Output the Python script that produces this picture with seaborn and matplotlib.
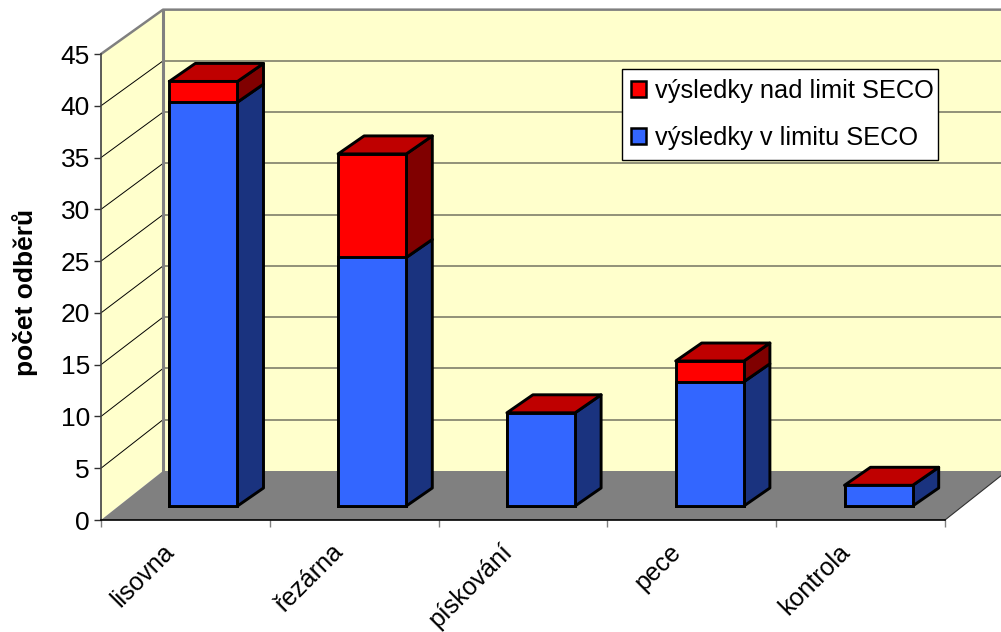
import matplotlib
matplotlib.use("Agg")
import matplotlib.pyplot as plt
from matplotlib.patches import Patch, Polygon, Rectangle
import pandas as pd
import seaborn as sns

# data
categories = ["lisovna", "řezárna", "pískování", "pece", "kontrola"]
in_limit = [39, 24, 9, 12, 2]
over_limit = [2, 10, 0, 2, 0]
y_ticks = [0, 5, 10, 15, 20, 25, 30, 35, 40, 45]
label_over = "výsledky nad limit SECO"
label_in = "výsledky v limitu SECO"

sns.set_theme(style="white")
plt.rcParams["font.family"] = ["Liberation Sans", "DejaVu Sans"]

W, H = 1001, 632
# front plane of the chart in pixels
left, right, top, bottom = 101, 945, 54, 520
px_x = (right - left) / len(categories)
px_y = (bottom - top) / 45

df = pd.DataFrame({"kategorie": categories, "v_limitu": in_limit, "nad_limitem": over_limit})
df["celkem"] = df["v_limitu"] + df["nad_limitem"]

fig = plt.figure(figsize=(W / 100, H / 100), dpi=100, facecolor="white")
ax = fig.add_axes([left / W, 1 - bottom / H, (right - left) / W, (bottom - top) / H])
ax.set_xlim(-0.5, 4.5)
ax.set_ylim(0, 45)
ax.patch.set_visible(False)

# walls and floor
wall_dx = 62 / px_x
wall_dy = 49 / px_y
back_scale = 0.99
x0, x1 = -0.5, 4.5


def back_y(v):
    return wall_dy + v * back_scale


yellow = "#FFFFCC"
ax.add_patch(Polygon([(x0, 0), (x0 + wall_dx, wall_dy), (x0 + wall_dx, back_y(45)), (x0, 45)],
                     fc=yellow, ec="none", clip_on=False, zorder=1))
ax.add_patch(Polygon([(x0 + wall_dx, wall_dy), (x1 + wall_dx, wall_dy), (x1 + wall_dx, back_y(45)), (x0 + wall_dx, back_y(45))],
                     fc=yellow, ec="none", clip_on=False, zorder=1))
ax.add_patch(Polygon([(x0, 0), (x1, 0), (x1 + wall_dx, wall_dy), (x0 + wall_dx, wall_dy)],
                     fc="#808080", ec="none", clip_on=False, zorder=1))

for v in y_ticks[1:-1]:
    ax.plot([x0, x0 + wall_dx], [v, back_y(v)], color="black", lw=0.7, clip_on=False, zorder=2)
    ax.plot([x0 + wall_dx, x1 + wall_dx], [back_y(v), back_y(v)], color="#7F7F6A", lw=1.2, clip_on=False, zorder=2)

# frame edges of the walls
ax.plot([x0, x0 + wall_dx, x1 + wall_dx], [45, back_y(45), back_y(45)], color="#808080", lw=1.8, clip_on=False, zorder=3)
ax.plot([x0 + wall_dx, x0 + wall_dx], [wall_dy, back_y(45)], color="#808080", lw=2.2, clip_on=False, zorder=3)
ax.plot([x1, x1 + wall_dx], [0, wall_dy], color="#303030", lw=0.8, clip_on=False, zorder=3)

sns.despine(ax=ax, top=True, right=True)
ax.spines["left"].set_color("#404040")
ax.spines["left"].set_linewidth(1.2)
ax.spines["left"].set_zorder(4)
ax.spines["bottom"].set_color("black")
ax.spines["bottom"].set_linewidth(1.2)
ax.spines["bottom"].set_zorder(4)

ax.set_yticks(y_ticks)
ax.tick_params(axis="y", left=True, length=5, width=1, color="#303030", labelsize=19, pad=3, labelcolor="black")
ax.set_xticks([x0 + i for i in range(len(categories) + 1)])
ax.set_xticklabels([])
ax.tick_params(axis="x", which="major", bottom=True, length=5, width=1, color="#808080")
# label ends sit left of the category centre
ax.set_xticks([i - 23 / px_x for i in range(len(categories))], labels=categories, minor=True)
ax.tick_params(axis="x", which="minor", bottom=False, length=0, pad=14, labelsize=18, labelcolor="black")
for t in ax.get_xticklabels(minor=True):
    t.set_rotation(45)
    t.set_ha("right")
    t.set_va("top")
    t.set_rotation_mode("anchor")
fig.text(25 / W, 1 - 292 / H, "počet odběrů", rotation=90, ha="center", va="center",
         fontsize=19, fontweight="bold", color="black")

# bars sit part way into the floor
shift_x, shift_y = 18, 14
bx = fig.add_axes([(left + shift_x) / W, 1 - (bottom - shift_y) / H, (right - left) / W, (bottom - top) / H])
bx.patch.set_visible(False)

edge = dict(edgecolor="black", linewidth=2.1)
sns.barplot(data=df, x="kategorie", y="celkem", color="#FF0000", saturation=1, width=0.404, ax=bx, **edge)
sns.barplot(data=df, x="kategorie", y="v_limitu", color="#3366FF", saturation=1, width=0.404, ax=bx, **edge)
bx.set_xlim(-0.5, 4.5)
bx.set_ylim(0, 45)
bx.axis("off")

# depth of the bars
depth_x = 26 / px_x
depth_y = 18 / px_y
n = len(categories)
for p in bx.patches[:n * 2]:
    p.set_clip_on(False)
    p.set_zorder(6)
for red, blue in zip(bx.patches[:n], bx.patches[n:n * 2]):
    xl = blue.get_x()
    xr = xl + blue.get_width()
    h_blue = blue.get_height()
    h_all = red.get_height()
    common = dict(edgecolor="black", linewidth=2.1, clip_on=False, zorder=5, joinstyle="round")
    bx.add_patch(Polygon([(xr, 0), (xr + depth_x, depth_y), (xr + depth_x, h_blue + depth_y), (xr, h_blue)],
                         facecolor="#1A337F", **common))
    if h_all > h_blue:
        bx.add_patch(Polygon([(xr, h_blue), (xr + depth_x, h_blue + depth_y), (xr + depth_x, h_all + depth_y), (xr, h_all)],
                             facecolor="#800000", **common))
    bx.add_patch(Polygon([(xl, h_all), (xr, h_all), (xr + depth_x, h_all + depth_y), (xl + depth_x, h_all + depth_y)],
                         facecolor="#BF0000", **common))

# legend box drawn apart so its padding can match the picture
bx.add_patch(Rectangle((622 / W, 1 - 160 / H), 316 / W, 91 / H, transform=fig.transFigure,
                       fc="white", ec="black", lw=1, clip_on=False, zorder=9))
handles = [Patch(facecolor="#FF0000", edgecolor="black", linewidth=1.8, label=label_over),
           Patch(facecolor="#3366FF", edgecolor="black", linewidth=1.8, label=label_in)]
leg = bx.legend(handles=handles, loc="upper left", bbox_to_anchor=(631 / W, 1 - 79 / H),
                bbox_transform=fig.transFigure, borderaxespad=0, borderpad=0, fontsize=18.3, frameon=False,
                handlelength=0.6, handleheight=0.6, handletextpad=0.35, labelspacing=0.9, labelcolor="black")
leg.set_zorder(10)

fig.savefig("out.png", dpi=100)
